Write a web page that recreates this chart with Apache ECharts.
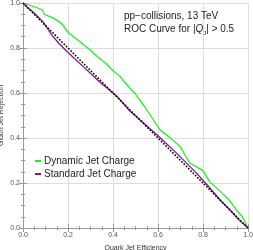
<!DOCTYPE html>
<html><head><meta charset="utf-8">
<script src="https://cdn.jsdelivr.net/npm/echarts@6/dist/echarts.min.js"></script>
<style>html,body{margin:0;padding:0;background:#fff}#c{width:253px;height:250px}</style>
</head><body><div id="c"></div>
<script>
const xTicks = [0, 0.2, 0.4, 0.6, 0.8, 1.0];
const dynamicCurve = [[0,1],[0.03,0.99],[0.06,0.98],[0.085,0.97],[0.095,0.95],[0.13,0.935],[0.15,0.925],[0.175,0.905],[0.2,0.87],[0.25,0.83],[0.3,0.79],[0.33,0.762],[0.37,0.73],[0.4,0.70],[0.43,0.675],[0.45,0.65],[0.475,0.622],[0.5,0.595],[0.54,0.54],[0.58,0.48],[0.61,0.435],[0.65,0.405],[0.7,0.36],[0.74,0.29],[0.8,0.255],[0.83,0.205],[0.875,0.165],[0.92,0.12],[0.95,0.078],[0.975,0.05],[1,0]];
const standardCurve = [[0,1],[0.02,0.98],[0.045,0.96],[0.09,0.915],[0.13,0.855],[0.16,0.82],[0.2,0.78],[0.27,0.715],[0.34,0.65],[0.42,0.583],[0.475,0.52],[0.52,0.48],[0.6,0.41],[0.68,0.335],[0.77,0.245],[0.82,0.19],[0.88,0.12],[0.92,0.08],[0.96,0.035],[1,0]];
const diagonal = [[0,1],[1,0]];
const seriesNames = ['Dynamic Jet Charge', 'Standard Jet Charge'];

const chart = echarts.init(document.getElementById('c'));
const lab = {fontSize: 7, color: '#555', fontFamily: 'Liberation Sans'};
function axisBase(extra) {
  return Object.assign({
    type: 'value', min: 0, max: 1, interval: 0.2,
    axisLine: {show: true, lineStyle: {color: '#999', width: 1}},
    axisTick: {show: true, inside: true, length: 4, lineStyle: {color: '#999'}},
    minorTick: {show: true, splitNumber: 4, length: 2, lineStyle: {color: '#999'}},
    splitLine: {show: false},
    axisLabel: {show: false}
  }, extra);
}
chart.setOption({
  animation: false,
  grid: {left: 23, right: 5, top: 3, bottom: 22, outerBoundsMode: 'none', containLabel: false},
  title: {
    left: 124, top: 10, itemGap: 0, padding: 0,
    text: 'pp\u2212collisions, 13 TeV\nROC Curve for |{i|Q}{s|J}| > 0.5',
    textStyle: {fontSize: 10, fontWeight: 'normal', color: '#222', fontFamily: 'Liberation Sans', lineHeight: 13,
      rich: {i: {fontStyle: 'italic', fontSize: 10, color: '#222'}, s: {fontSize: 6, verticalAlign: 'bottom', color: '#222', padding: [6,0,0,0]}}}
  },
  legend: {
    left: 35, top: 156, orient: 'vertical', itemGap: 3, padding: 0,
    itemWidth: 6, itemHeight: 2, icon: 'rect',
    textStyle: {fontSize: 10, color: '#222', fontFamily: 'Liberation Sans', padding: [0,0,0,-2]},
    data: seriesNames
  },
  xAxis: [
    axisBase({position: 'bottom', name: 'Quark Jet Efficiency', nameLocation: 'middle', nameGap: 17, nameMoveOverlap: false,
      nameTextStyle: {fontSize: 7, color: '#333', fontFamily: 'Liberation Sans'},
      splitLine: {show: true, lineStyle: {color: '#ddd', width: 1}},
      axisLabel: Object.assign({show: true, margin: 4, formatter: v => v.toFixed(1)}, lab)}),
    axisBase({position: 'top'})
  ],
  yAxis: [
    axisBase({position: 'left', name: 'Gluon Jet Rejection', nameLocation: 'middle', nameGap: 18, nameMoveOverlap: false,
      nameTextStyle: {fontSize: 7, color: '#333', fontFamily: 'Liberation Sans'},
      splitLine: {show: true, lineStyle: {color: '#ddd', width: 1}},
      axisLabel: Object.assign({show: true, margin: 3, formatter: v => v.toFixed(1)}, lab)}),
    axisBase({position: 'right'})
  ],
  series: [
    {name: seriesNames[0], type: 'line', data: dynamicCurve, showSymbol: false, lineStyle: {color: '#22ee22', width: 1.3}, itemStyle: {color: '#22ee22'}},
    {name: seriesNames[1], type: 'line', data: standardCurve, showSymbol: false, lineStyle: {color: '#80158a', width: 1.3}, itemStyle: {color: '#80158a'}},
    {name: 'diag', type: 'line', data: diagonal, showSymbol: false, lineStyle: {color: '#000', width: 1.6, type: [1.6, 1.6]}, z: 3}
  ]
});
</script></body></html>
